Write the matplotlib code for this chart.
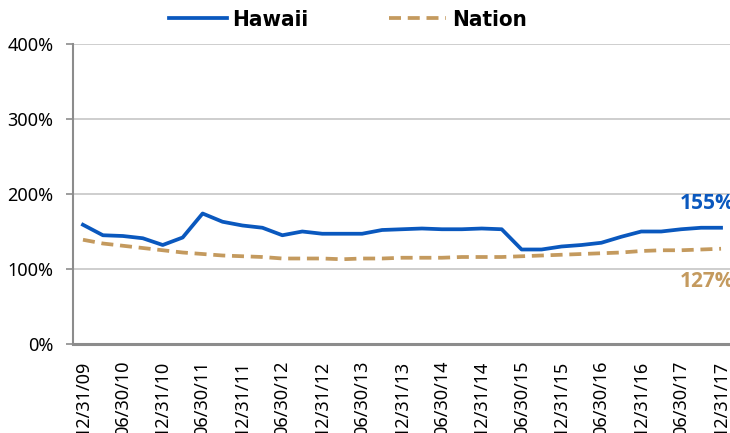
import numpy as np
import matplotlib

matplotlib.use('Agg')

import matplotlib.pyplot as plt

# quarter-end dates, 12/31/09 .. 12/31/17
quarters = ['12/31/09', '03/31/10', '06/30/10', '09/30/10', '12/31/10', '03/31/11',
            '06/30/11', '09/30/11', '12/31/11', '03/31/12', '06/30/12', '09/30/12',
            '12/31/12', '03/31/13', '06/30/13', '09/30/13', '12/31/13', '03/31/14',
            '06/30/14', '09/30/14', '12/31/14', '03/31/15', '06/30/15', '09/30/15',
            '12/31/15', '03/31/16', '06/30/16', '09/30/16', '12/31/16', '03/31/17',
            '06/30/17', '09/30/17', '12/31/17']

hawaii = [159, 145, 144, 141, 132, 142, 174, 163, 158, 155, 145, 150, 147, 147, 147,
          152, 153, 154, 153, 153, 154, 153, 126, 126, 130, 132, 135, 143, 150, 150,
          153, 155, 155]
nation = [139, 134, 131, 128, 125, 122, 120, 118, 117, 116, 114, 114, 114, 113, 114,
          114, 115, 115, 115, 116, 116, 116, 117, 118, 119, 120, 121, 122, 124, 125,
          125, 126, 127]

blue = '#0a58be'
tan = '#c49a5e'
grey = '#8c8c8c'

plt.rcParams['font.family'] = ['Noto Sans', 'DejaVu Sans']

fig = plt.figure(figsize=(7.3, 4.33), dpi=100)
ax = fig.add_axes([73 / 730, 89 / 433, 658 / 730, 300 / 433])

x = np.arange(len(quarters))
h_line, = ax.plot(x, hawaii, color=blue, lw=2.7, label='Hawaii', solid_joinstyle='round')
n_line, = ax.plot(x, nation, color=tan, lw=2.7, ls=(0, (3.2, 1.8)), label='Nation')

ax.set_xlim(-0.5, len(quarters) - 0.5)
ax.set_ylim(0, 400)
ax.set_yticks([0, 100, 200, 300, 400])
ax.set_yticklabels(['{}%'.format(v) for v in [0, 100, 200, 300, 400]], fontsize=13)
ax.yaxis.grid(True, color='#c6c6c6', lw=1.2)
ax.set_axisbelow(True)

ax.set_xticks(x[::2])
ax.set_xticklabels(quarters[::2], rotation=90, fontsize=13, va='top')
ax.tick_params(axis='x', length=0, pad=12)
ax.tick_params(axis='y', length=5, color=grey, width=1.2, pad=9)

for side in ['top', 'right']:
    ax.spines[side].set_visible(False)
ax.spines['left'].set_color(grey)
ax.spines['left'].set_linewidth(1.5)
ax.spines['bottom'].set_color(grey)
ax.spines['bottom'].set_linewidth(2.2)

# end-of-period value labels
ax.annotate('{}%'.format(hawaii[-1]), (x[-1], hawaii[-1]), xytext=(-41, 24),
            textcoords='offset pixels', ha='left', va='center', color=blue,
            fontsize=15, fontweight='bold', family='Open Sans', annotation_clip=False)
ax.annotate('{}%'.format(nation[-1]), (x[-1], nation[-1]), xytext=(-41, -33),
            textcoords='offset pixels', ha='left', va='center', color=tan,
            fontsize=15, fontweight='bold', family='Open Sans', annotation_clip=False)

leg = fig.legend(handles=[h_line, n_line], loc='center', bbox_to_anchor=(348 / 730, 1 - 20 / 433),
                 ncol=2, frameon=False, handlelength=2.6, columnspacing=3.6, handletextpad=0.25,
                 prop={'family': 'DejaVu Sans', 'stretch': 'condensed', 'weight': 'bold', 'size': 16})

plt.savefig('out.png', dpi=100)
